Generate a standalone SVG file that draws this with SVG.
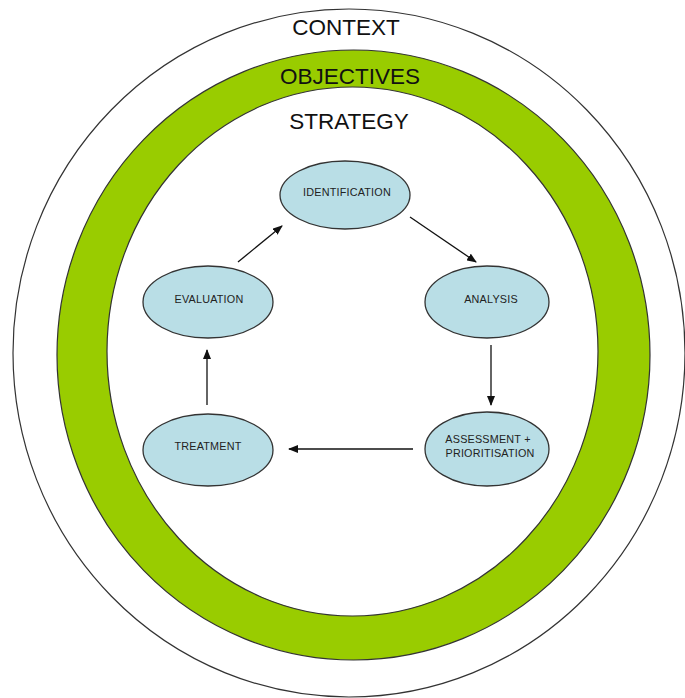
<svg xmlns="http://www.w3.org/2000/svg" width="685" height="698" viewBox="0 0 685 698">
<style>
.ring{stroke:#333;stroke-width:1.2}
.title{font-family:"Liberation Sans",Arial,sans-serif;font-size:22.5px;fill:#111;text-anchor:middle}
.node ellipse{fill:#b9dee6;stroke:#333;stroke-width:1.3}
.node text{font-family:"Liberation Sans",Arial,sans-serif;font-size:10.8px;fill:#222;text-anchor:middle;letter-spacing:0.2px}
.conn line{stroke:#111;stroke-width:1.3;marker-end:url(#ah)}
</style>
<defs>
<marker id="ah" markerWidth="10" markerHeight="8" refX="9" refY="4" orient="auto" markerUnits="userSpaceOnUse">
<path d="M0,0 L10,4 L0,8 z" fill="#111"/>
</marker>
</defs>
<rect width="685" height="698" fill="#fff"/>
<g id="context">
<ellipse class="ring" cx="349" cy="353" rx="336" ry="344" fill="#fff"/>
<text class="title" x="346" y="35">CONTEXT</text>
</g>
<g id="objectives">
<ellipse class="ring" cx="353.5" cy="355" rx="296.5" ry="305" fill="#99cc00"/>
<text class="title" x="350" y="84">OBJECTIVES</text>
</g>
<g id="strategy">
<ellipse class="ring" cx="352.5" cy="351.5" rx="245.5" ry="264.5" fill="#fff"/>
<text class="title" x="349" y="129">STRATEGY</text>
</g>
<g class="conn" id="connectors">
<line x1="238" y1="262" x2="282" y2="226"/>
<line x1="410" y1="217" x2="476" y2="262"/>
<line x1="491" y1="345" x2="491" y2="405"/>
<line x1="413" y1="449" x2="289" y2="449"/>
<line x1="207" y1="405" x2="207" y2="350"/>
</g>
<g class="node" id="identification">
<ellipse cx="345" cy="195" rx="65" ry="34"/>
<text x="347" y="196">IDENTIFICATION</text>
</g>
<g class="node" id="analysis">
<ellipse cx="487" cy="302" rx="62" ry="36"/>
<text x="491" y="303">ANALYSIS</text>
</g>
<g class="node" id="assessment">
<ellipse cx="487" cy="449" rx="62" ry="37"/>
<text x="488" y="443">ASSESSMENT +</text>
<text x="490" y="457">PRIORITISATION</text>
</g>
<g class="node" id="treatment">
<ellipse cx="208" cy="450" rx="65" ry="36"/>
<text x="208" y="450">TREATMENT</text>
</g>
<g class="node" id="evaluation">
<ellipse cx="208" cy="302" rx="65" ry="36"/>
<text x="209" y="303">EVALUATION</text>
</g>
</svg>
